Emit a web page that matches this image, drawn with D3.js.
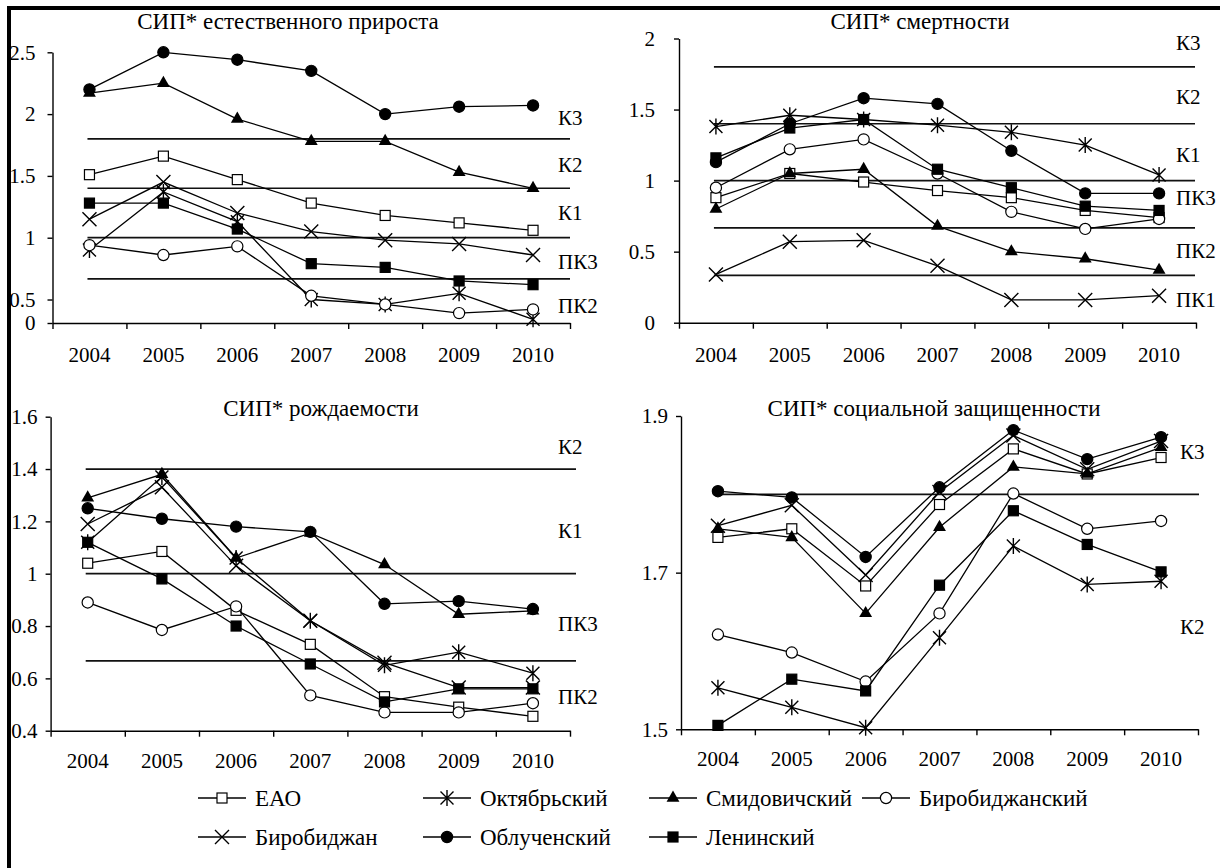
<!DOCTYPE html>
<html>
<head>
<meta charset="utf-8">
<script src="https://cdn.jsdelivr.net/npm/d3@7"></script>
<style>
  body { margin: 0; background: #fff; }
  svg { display: block; }
  svg text { font-family: "Liberation Serif", "Times New Roman", serif; }
</style>
</head>
<body>
<svg width="1220" height="868"></svg>
<script>
const svg = d3.select("svg");

// DATA
const years = ["2004", "2005", "2006", "2007", "2008", "2009", "2010"];
const seriesNames = ["ЕАО", "Октябрьский", "Смидовичский", "Биробиджанский", "Биробиджан", "Облученский", "Ленинский"];
const seriesMarks = ["openSquare", "asterisk", "triangle", "openCircle", "cross", "circle", "square"];

// СИП* естественного прироста (rows follow seriesNames)
const growthValues = [
  [1.51, 1.66, 1.47, 1.28, 1.18, 1.12, 1.06],
  [0.90, 1.37, 1.13, 0.50, 0.46, 0.55, 0.34],
  [2.17, 2.25, 1.96, 1.78, 1.78, 1.53, 1.40],
  [0.94, 0.86, 0.93, 0.53, 0.46, 0.39, 0.42],
  [1.15, 1.45, 1.20, 1.05, 0.98, 0.95, 0.86],
  [2.20, 2.50, 2.44, 2.35, 2.00, 2.06, 2.07],
  [1.28, 1.28, 1.07, 0.79, 0.76, 0.65, 0.62]
];
const growthLines = [1.8, 1.4, 1.0, 0.667];
const growthZones = ["К3", "К2", "К1", "ПК3", "ПК2"];
const growthZoneAt = [1.97, 1.59, 1.2, 0.81, 0.45];
const growthTicks = [0.31, 0.5, 1, 1.5, 2, 2.5];
const growthTickLabels = ["0", "0.5", "1", "1.5", "2", "2.5"];

// СИП* смертности
const deathValues = [
  [0.88, 1.05, 0.99, 0.93, 0.88, 0.79, 0.74],
  [1.38, 1.46, 1.43, 1.39, 1.34, 1.25, 1.04],
  [0.80, 1.05, 1.08, 0.68, 0.50, 0.45, 0.37],
  [0.95, 1.22, 1.29, 1.05, 0.78, 0.66, 0.73],
  [0.34, 0.57, 0.58, 0.40, 0.16, 0.16, 0.19],
  [1.13, 1.40, 1.58, 1.54, 1.21, 0.91, 0.91],
  [1.16, 1.37, 1.43, 1.08, 0.95, 0.82, 0.79]
];
const deathLines = [1.8, 1.4, 1.0, 0.667, 0.333];
const deathZones = ["К3", "К2", "К1", "ПК3", "ПК2", "ПК1"];
const deathZoneAt = [1.97, 1.59, 1.18, 0.88, 0.51, 0.16];
const deathTicks = [0, 0.5, 1, 1.5, 2];
const deathTickLabels = ["0", "0.5", "1", "1.5", "2"];

// СИП* рождаемости
const birthValues = [
  [1.04, 1.085, 0.86, 0.73, 0.53, 0.49, 0.455],
  [1.12, 1.37, 1.06, 0.82, 0.65, 0.70, 0.62],
  [1.29, 1.38, 1.06, 1.155, 1.035, 0.845, 0.858],
  [0.89, 0.785, 0.875, 0.535, 0.47, 0.47, 0.505],
  [1.19, 1.33, 1.03, 0.82, 0.66, 0.565, 0.565],
  [1.25, 1.21, 1.18, 1.16, 0.885, 0.895, 0.865],
  [1.12, 0.98, 0.80, 0.655, 0.51, 0.56, 0.56]
];
const birthLines = [1.4, 1.0, 0.667];
const birthZones = ["К2", "К1", "ПК3", "ПК2"];
const birthZoneAt = [1.485, 1.164, 0.81, 0.53];
const birthTicks = [0.4, 0.6, 0.8, 1, 1.2, 1.4, 1.6];
const birthTickLabels = ["0.4", "0.6", "0.8", "1", "1.2", "1.4", "1.6"];

// СИП* социальной защищенности
const socialValues = [
  [1.745, 1.756, 1.683, 1.787, 1.858, 1.826, 1.847],
  [1.553, 1.528, 1.502, 1.617, 1.734, 1.685, 1.689],
  [1.756, 1.745, 1.648, 1.758, 1.835, 1.826, 1.860],
  [1.621, 1.598, 1.561, 1.648, 1.801, 1.756, 1.766],
  [1.760, 1.786, 1.697, 1.803, 1.875, 1.832, 1.868],
  [1.804, 1.796, 1.720, 1.809, 1.882, 1.845, 1.873],
  [1.505, 1.564, 1.549, 1.684, 1.779, 1.736, 1.701]
];
const socialLines = [1.8];
const socialZones = ["К3", "К2"];
const socialZoneAt = [1.854, 1.631];
const socialTicks = [1.5, 1.7, 1.9];
const socialTickLabels = ["1.5", "1.7", "1.9"];

// LAYOUT (pixels)
const panels = [
  { title: "СИП* естественного прироста", values: growthValues, lines: growthLines, zones: growthZones, zoneAt: growthZoneAt,
    ticks: growthTicks, tickLabels: growthTickLabels, domain: [0.31, 2.5],
    x: [52.5, 570], y: [323, 52.3], titleX: 288, titleY: 21, pad: 12, labelPad: 24, lineEnd: 570, zoneX: 558 },
  { title: "СИП* смертности", values: deathValues, lines: deathLines, zones: deathZones, zoneAt: deathZoneAt,
    ticks: deathTicks, tickLabels: deathTickLabels, domain: [0, 2],
    x: [679, 1196], y: [322.7, 38.5], titleX: 920, titleY: 21, pad: 19, labelPad: 24, lineEnd: 1195, zoneX: 1176 },
  { title: "СИП* рождаемости", values: birthValues, lines: birthLines, zones: birthZones, zoneAt: birthZoneAt,
    ticks: birthTicks, tickLabels: birthTickLabels, domain: [0.4, 1.6],
    x: [50.6, 570], y: [730.7, 416.7], titleX: 321, titleY: 408, pad: 8, labelPad: 22, lineEnd: 576, zoneX: 558 },
  { title: "СИП* социальной защищенности", values: socialValues, lines: socialLines, zones: socialZones, zoneAt: socialZoneAt,
    ticks: socialTicks, tickLabels: socialTickLabels, domain: [1.5, 1.9],
    x: [681, 1198], y: [729.3, 416], titleX: 934, titleY: 408, pad: 8, labelPad: 22, lineEnd: 1199, zoneX: 1180 }
];

// marker shapes, drawn around (0,0)
function drawMark(sel, type) {
  if (type === "openSquare" || type === "square") {
    sel.append("rect")
      .attr("x", -5).attr("y", -5).attr("width", 10).attr("height", 10)
      .attr("fill", type === "square" ? "#000" : "#fff")
      .attr("stroke", "#000").attr("stroke-width", 1.2);
  } else if (type === "openCircle" || type === "circle") {
    sel.append("circle")
      .attr("r", 5.6)
      .attr("fill", type === "circle" ? "#000" : "#fff")
      .attr("stroke", "#000").attr("stroke-width", 1.2);
  } else if (type === "triangle") {
    sel.append("path")
      .attr("d", d3.symbol().type(d3.symbolTriangle).size(72)())
      .attr("fill", "#000");
  } else if (type === "cross") {
    sel.append("path")
      .attr("d", "M-7,-7L7,7M-7,7L7,-7")
      .attr("stroke", "#000").attr("stroke-width", 1.4);
  } else {
    sel.append("path")
      .attr("d", "M-6.5,-6.5L6.5,6.5M-6.5,6.5L6.5,-6.5M0,-8L0,8")
      .attr("stroke", "#000").attr("stroke-width", 1.4);
  }
}

function render(p) {
  const g = svg.append("g");

  const xScale = d3.scaleBand().domain(years).range(p.x);
  const xEdges = d3.scaleLinear().domain([0, years.length]).range(p.x);
  const yScale = d3.scaleLinear().domain(p.domain).range(p.y);
  const xPos = d => xScale(d) + xScale.bandwidth() / 2;

  // y axis
  const yAxis = g.append("g")
    .attr("transform", `translate(${p.x[0]},0)`)
    .call(d3.axisLeft(yScale).tickValues(p.ticks).tickSize(5).tickSizeOuter(0).tickPadding(p.pad)
      .tickFormat((d, i) => p.tickLabels[i]));
  yAxis.attr("font-family", null).attr("font-size", 21);
  yAxis.selectAll("text").attr("fill", "#000");

  // x axis: boundary ticks + centred year labels
  g.append("g")
    .attr("transform", `translate(0,${p.y[0]})`)
    .call(d3.axisBottom(xEdges).tickValues(d3.range(years.length + 1)).tickSize(6).tickSizeOuter(0).tickFormat(""));
  const xLabels = g.append("g")
    .attr("transform", `translate(0,${p.y[0]})`)
    .call(d3.axisBottom(xScale).tickSize(0).tickPadding(p.labelPad));
  xLabels.select(".domain").remove();
  xLabels.attr("font-family", null).attr("font-size", 21);
  xLabels.selectAll("text").attr("fill", "#000");

  g.selectAll(".domain").attr("stroke", "#000").attr("stroke-width", 1.4);
  g.selectAll(".tick line").attr("stroke", "#000").attr("stroke-width", 1.4);

  // threshold lines
  g.selectAll("line.level").data(p.lines).enter()
    .append("line")
    .attr("class", "level")
    .attr("x1", xPos(years[0]) - 2)
    .attr("x2", p.lineEnd)
    .attr("y1", d => yScale(d))
    .attr("y2", d => yScale(d))
    .attr("stroke", "#111")
    .attr("stroke-width", 1.7);

  // zone labels
  g.selectAll("text.zone").data(p.zones).enter()
    .append("text")
    .attr("class", "zone")
    .attr("x", p.zoneX)
    .attr("y", (d, i) => yScale(p.zoneAt[i]))
    .attr("dy", "0.35em")
    .attr("font-size", 21)
    .text(d => d);

  // series
  const line = d3.line().x((d, i) => xPos(years[i])).y(d => yScale(d));
  const series = g.selectAll("g.series").data(p.values).enter()
    .append("g").attr("class", "series");
  series.append("path")
    .attr("d", d => line(d))
    .attr("fill", "none")
    .attr("stroke", "#000")
    .attr("stroke-width", 1.3);
  series.each(function (vals, si) {
    d3.select(this).selectAll("g.pt").data(vals).enter()
      .append("g")
      .attr("transform", (d, i) => `translate(${xPos(years[i])},${yScale(d)})`)
      .each(function () { drawMark(d3.select(this), seriesMarks[si]); });
  });

  // title
  g.append("text")
    .attr("x", p.titleX)
    .attr("y", p.titleY)
    .attr("dy", "0.35em")
    .attr("text-anchor", "middle")
    .attr("font-size", 23)
    .text(p.title);
}

panels.forEach(render);

// LEGEND
const legendCols = [198, 423, 649, 862];
const legendRows = [798, 837];
const legend = svg.append("g");
seriesNames.forEach((name, i) => {
  const x = legendCols[i < 4 ? i : i - 4];
  const y = legendRows[i < 4 ? 0 : 1];
  const item = legend.append("g").attr("transform", `translate(${x},${y})`);
  item.append("line").attr("x1", 0).attr("x2", 48).attr("stroke", "#000").attr("stroke-width", 1.3);
  drawMark(item.append("g").attr("transform", "translate(24,0)"), seriesMarks[i]);
  item.append("text").attr("x", 57).attr("dy", "0.35em").attr("font-size", 23).text(name);
});

// frame (top and left edges)
svg.append("path")
  .attr("d", "M9,868L9,8L1220,8")
  .attr("fill", "none")
  .attr("stroke", "#000")
  .attr("stroke-width", 4);
</script>
</body>
</html>
